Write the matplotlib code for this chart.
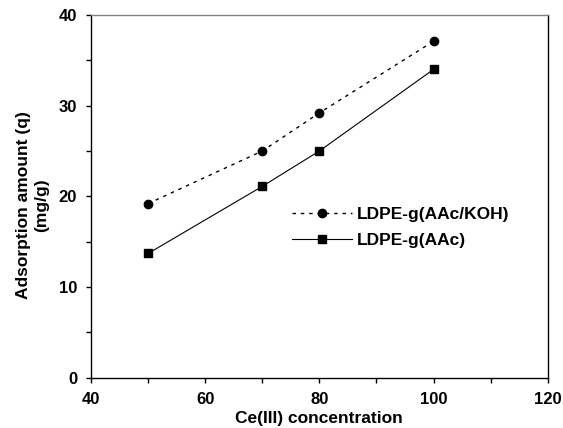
import matplotlib
matplotlib.use("Agg")
import matplotlib.pyplot as plt
from matplotlib.ticker import MultipleLocator

plt.rcParams['font.family'] = ['Liberation Sans', 'DejaVu Sans']
plt.rcParams['font.weight'] = 'bold'

conc = [50, 70, 80, 100]
q_koh = [19.2, 25.0, 29.2, 37.1]
q_aac = [13.7, 21.1, 25.0, 34.0]

fig = plt.figure(figsize=(5.63, 4.28), dpi=100)
ax = fig.add_axes([91/563, 1-377.7/428, (547.7-91)/563, (377.7-15)/428])

ax.plot(conc, q_koh, linestyle=(0, (2.5, 3.5)), color='black', lw=1,
        marker='o', ms=6, label='LDPE-g(AAc/KOH)')
ax.plot(conc, q_aac, linestyle='-', color='black', lw=0.8,
        marker='s', ms=6, label='LDPE-g(AAc)')

ax.set_xlim(40, 120)
ax.set_ylim(0, 40)
ax.xaxis.set_major_locator(MultipleLocator(20))
ax.xaxis.set_minor_locator(MultipleLocator(10))
ax.yaxis.set_major_locator(MultipleLocator(10))
ax.yaxis.set_minor_locator(MultipleLocator(5))
ax.tick_params(which='both', direction='out', top=False, right=False,
               labelsize=12, width=1, length=3.5)
ax.tick_params(axis='y', which='major', pad=6.5)
ax.tick_params(axis='x', which='major', pad=7)
for s in ax.spines.values():
    s.set_linewidth(1)
ax.spines['top'].set_color('#808080')

ax.set_xlabel('Ce(III) concentration', fontsize=12.5, fontweight='bold', labelpad=3)
fig.text(32.5/563, 1-205/428, 'Adsorption amount (q)\n(mg/g)', rotation=90,
         ha='center', va='center', multialignment='center',
         fontsize=12.5, fontweight='bold', linespacing=1.3)

ax.legend(loc='upper left', bbox_to_anchor=(0.44, 0.471), frameon=False,
          fontsize=12.5, handlelength=3.45, handletextpad=0.3, labelspacing=0.6,
          borderaxespad=0, borderpad=0)

fig.savefig('out.png', dpi=100)
